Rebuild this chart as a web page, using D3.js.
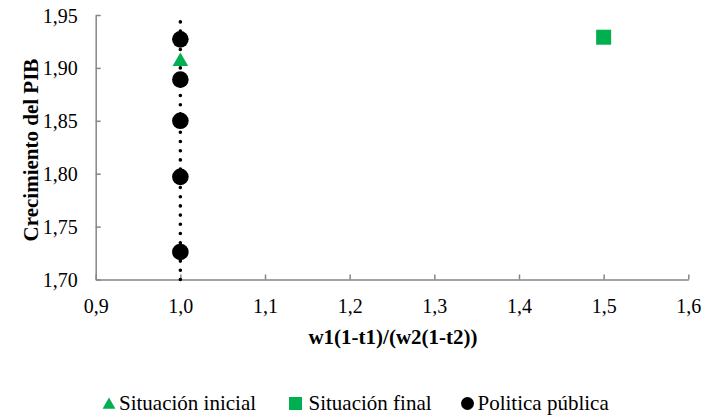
<!DOCTYPE html>
<html>
<head>
<meta charset="utf-8">
<script src="https://cdn.jsdelivr.net/npm/d3@7"></script>
<style>
  body { margin: 0; background: #fff; }
  svg, svg text { font-family: 'Liberation Serif', Tinos, 'Times New Roman', Times, 'DejaVu Serif', serif; }
</style>
</head>
<body>
<svg id="chart"></svg>
<script>
// data
const inicial = [{ x: 1.0, y: 1.908 }];
const final = [{ x: 1.5, y: 1.929 }];
const politica = [
  { x: 1.0, y: 1.927 },
  { x: 1.0, y: 1.889 },
  { x: 1.0, y: 1.850 },
  { x: 1.0, y: 1.797 },
  { x: 1.0, y: 1.726 }
];
const guideLine = [{ x: 1.0, y: 1.70 }, { x: 1.0, y: 1.95 }];
const xTicks = [0.9, 1.0, 1.1, 1.2, 1.3, 1.4, 1.5, 1.6];
const yTicks = [1.70, 1.75, 1.80, 1.85, 1.90, 1.95];
const legendItems = [
  { name: 'Situación inicial', symbol: 'triangle', color: '#00B050' },
  { name: 'Situación final', symbol: 'square', color: '#00B050' },
  { name: 'Politica pública', symbol: 'circle', color: '#000000' }
];

const width = 702, height = 419;
const margin = { top: 15, left: 95.7 };

const svg = d3.select('#chart').attr('width', width).attr('height', height);
const g = svg.append('g').attr('transform', `translate(${margin.left},${margin.top})`);

const xScale = d3.scaleLinear().domain([0.9, 1.6]).range([0, 592.6]);
const yScale = d3.scaleLinear().domain([1.70, 1.95]).range([264.5, 0]);

const fmt = d => d3.format('.1f')(d).replace('.', ',');
const fmtY = d => d3.format('.2f')(d).replace('.', ',');

// axes
const xAxis = g.append('g')
  .attr('transform', `translate(0,${yScale(1.70)})`)
  .call(d3.axisBottom(xScale).tickValues(xTicks).tickFormat(fmt).tickSizeInner(-5).tickSizeOuter(0).tickPadding(19));
const yAxis = g.append('g')
  .call(d3.axisLeft(yScale).tickValues(yTicks).tickFormat(fmtY).tickSizeInner(-5).tickSizeOuter(0).tickPadding(18));

[xAxis, yAxis].forEach(a => {
  a.attr('font-family', null).attr('font-size', null);
  a.select('.domain').attr('stroke', '#868686').attr('stroke-width', 1.5);
  a.selectAll('.tick line').attr('stroke', '#868686').attr('stroke-width', 1.5);
  a.selectAll('.tick text').attr('fill', '#000').style('font-size', '20px');
});
yAxis.selectAll('.tick text').attr('dy', '0.35em');

// dotted guide
const line = d3.line().x(d => xScale(d.x)).y(d => yScale(d.y));
g.append('path')
  .datum(guideLine)
  .attr('d', line)
  .attr('fill', 'none')
  .attr('stroke', '#000')
  .attr('stroke-width', 3.6)
  .attr('stroke-linecap', 'round')
  .attr('stroke-dasharray', '0 9.2');

// series
g.selectAll('.pol')
  .data(politica)
  .enter()
  .append('circle')
  .attr('cx', d => xScale(d.x))
  .attr('cy', d => yScale(d.y))
  .attr('r', 8.3)
  .attr('fill', '#000');

g.selectAll('.ini')
  .data(inicial)
  .enter()
  .append('path')
  .attr('transform', d => `translate(${xScale(d.x)},${yScale(d.y) + 2})`)
  .attr('d', d3.symbol(d3.symbolTriangle, 105))
  .attr('fill', '#00B050');

g.selectAll('.fin')
  .data(final)
  .enter()
  .append('rect')
  .attr('x', d => xScale(d.x) - 7.5)
  .attr('y', d => yScale(d.y) - 7.5)
  .attr('width', 15)
  .attr('height', 15)
  .attr('fill', '#00B050');

// axis titles
svg.append('text')
  .attr('x', 393)
  .attr('y', 344)
  .attr('text-anchor', 'middle')
  .style('font-size', '21px')
  .style('font-weight', 'bold')
  .text('w1(1-t1)/(w2(1-t2))');

svg.append('text')
  .attr('transform', 'translate(38,150) rotate(-90)')
  .attr('text-anchor', 'middle')
  .style('font-size', '21px')
  .style('font-weight', 'bold')
  .text('Crecimiento del PIB');

// legend
const legendX = [109, 295.5, 467.5];
const textGap = [10, 13, 10];
const legend = svg.append('g');
legendItems.forEach((item, i) => {
  const lg = legend.append('g').attr('transform', `translate(${legendX[i]},410)`);
  if (item.symbol === 'triangle') {
    lg.append('path').attr('d', d3.symbol(d3.symbolTriangle, 72)).attr('transform', 'translate(0,-5)').attr('fill', item.color);
  } else if (item.symbol === 'square') {
    lg.append('rect').attr('x', -6.5).attr('y', -13).attr('width', 13).attr('height', 13).attr('fill', item.color);
  } else {
    lg.append('circle').attr('r', 6.5).attr('cy', -6.5).attr('fill', item.color);
  }
  lg.append('text')
    .attr('x', textGap[i])
    .attr('y', 0)
    .style('font-size', '21px')
    .text(item.name);
});
</script>
</body>
</html>
